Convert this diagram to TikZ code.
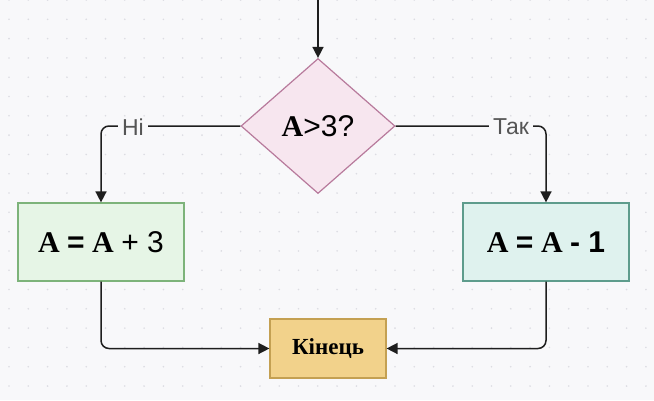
\documentclass[tikz,border=0pt]{standalone}
\usepackage{fontspec}
\setmainfont{Liberation Serif}
\newfontfamily\sansf{Liberation Sans}
\usetikzlibrary{shapes.geometric,arrows.meta}
\definecolor{bg}{HTML}{F8F8FA}
\definecolor{dotc}{HTML}{DCDCE2}
\definecolor{dfill}{HTML}{F7E6EF}
\definecolor{dline}{HTML}{B87A9C}
\definecolor{lfill}{HTML}{E6F5E6}
\definecolor{lline}{HTML}{7DB37A}
\definecolor{rfill}{HTML}{DFF2EE}
\definecolor{rline}{HTML}{5E9C8C}
\definecolor{efill}{HTML}{F2D28B}
\definecolor{eline}{HTML}{C4A052}
\definecolor{lblc}{HTML}{555555}
\definecolor{linec}{HTML}{1E1E1E}
\tikzset{
  boxnode/.style={draw, line width=1.2pt, minimum width=166, minimum height=78, inner sep=0pt, font=\fontsize{30}{32}\selectfont},
  arr/.style={draw=linec, line width=1.5pt, rounded corners=8, -{Triangle[length=11pt,width=11pt]}},
  lbl/.style={fill=bg, text=lblc, inner xsep=4pt, inner ysep=2pt, font=\sansf\fontsize{23}{25}\selectfont}
}
\begin{document}
\begin{tikzpicture}[x=1pt,y=-1pt]
\fill[bg] (0,0) rectangle (654,400);
\useasboundingbox (0,0) rectangle (654,400);
\foreach \i in {0,...,33}{
  \foreach \j in {0,...,20}{
    \fill[dotc] (9+\i*19.3, \j*19.3) circle (0.9);
  }
}
\node[diamond, draw=dline, fill=dfill, line width=1.2pt, minimum width=154, minimum height=135, inner sep=0pt, font=\fontsize{30}{32}\selectfont] (d) at (318,126) {\textbf{A}{\sansf >3?}};
\node[boxnode, draw=lline, fill=lfill] (L) at (101,242) {\textbf{A} {\sansf\bfseries =} \textbf{A} {\sansf + 3}};
\node[boxnode, draw=rline, fill=rfill] (R) at (546,242) {\textbf{A} {\sansf\bfseries =} \textbf{A} {\sansf\bfseries - 1}};
\node[draw=eline, fill=efill, line width=1.2pt, minimum width=116, minimum height=59, inner sep=0pt, font=\bfseries\fontsize{23}{25}\selectfont] (E) at (328,348.5) {Кінець};
\coordinate (top) at (318,0);
\draw[arr] (top) -- (d.north);
\draw[arr] (d.west) -| (L.north);
\draw[arr] (d.east) -| (R.north);
\draw[arr] (L.south) |- (E.west);
\draw[arr] (R.south) |- (E.east);
\node[lbl] (nl) at (133,127) {Ні};
\node[lbl] (nr) at (511,127) {Так};
\end{tikzpicture}
\end{document}
